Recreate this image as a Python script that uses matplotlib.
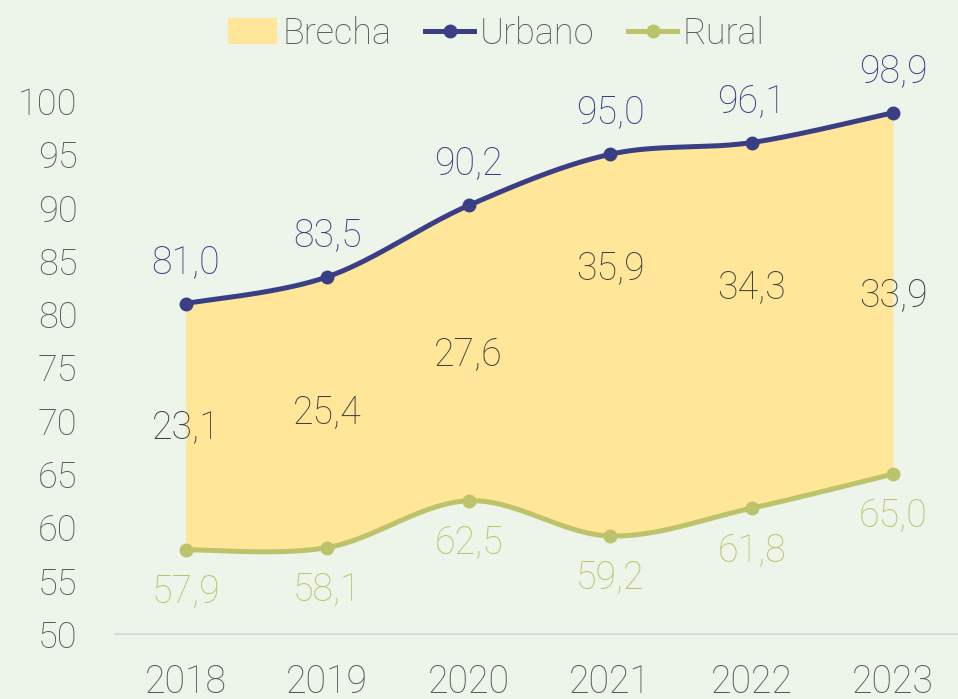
import numpy as np
import matplotlib
matplotlib.use("Agg")
import matplotlib.pyplot as plt
from matplotlib.patches import Patch
from matplotlib.lines import Line2D

years = ["2018", "2019", "2020", "2021", "2022", "2023"]
urbano = [81.0, 83.5, 90.2, 95.0, 96.1, 98.9]
rural = [57.9, 58.1, 62.5, 59.2, 61.8, 65.0]
brecha = [23.1, 25.4, 27.6, 35.9, 34.3, 33.9]
# vertical placement of gap labels (data units)
brecha_label_y = [69.4, 70.8, 76.2, 84.3, 82.5, 81.8]

C_URB = "#3a3f85"
C_RUR = "#bcc36a"
C_FILL = "#ffe699"
C_TXT = "#595959"
BG = "#edf5ea"
W = 'light'

plt.rcParams['font.family'] = ['Roboto', 'DejaVu Sans']


def smooth(xs, ys, n=40):
    xs = np.asarray(xs, float); ys = np.asarray(ys, float)
    P = np.column_stack([xs, ys])
    out = []
    for i in range(len(P) - 1):
        p0 = P[i - 1] if i > 0 else P[i]
        p1 = P[i]; p2 = P[i + 1]
        p3 = P[i + 2] if i + 2 < len(P) else P[i + 1]
        c1 = p1 + (p2 - p0) / 6.0
        c2 = p2 - (p3 - p1) / 6.0
        t = np.linspace(0, 1, n)[:, None]
        seg = ((1 - t) ** 3) * p1 + 3 * ((1 - t) ** 2) * t * c1 + 3 * (1 - t) * t ** 2 * c2 + t ** 3 * p2
        if i > 0:
            seg = seg[1:]
        out.append(seg)
    out = np.vstack(out)
    return out[:, 0], out[:, 1]


fig = plt.figure(figsize=(9.58, 6.99), dpi=100, facecolor=BG)
ax = fig.add_axes([0.120, 0.093, 0.883, 0.7625])
ax.set_facecolor(BG)

x = np.arange(len(years))
ux, uy = smooth(x, urbano)
rx, ry = smooth(x, rural)

ax.fill_between(ux, ry, uy, color=C_FILL, lw=0, zorder=1)
ax.plot(ux, uy, color=C_URB, lw=3.6, zorder=3, solid_capstyle='round')
ax.plot(rx, ry, color=C_RUR, lw=3.6, zorder=3, solid_capstyle='round')
ax.plot(x, urbano, 'o', color=C_URB, ms=9, zorder=4)
ax.plot(x, rural, 'o', color=C_RUR, ms=9, zorder=4)

fmt = lambda v: f"{v:.1f}".replace('.', ',')
for i in range(len(years)):
    ax.annotate(fmt(urbano[i]), (x[i], urbano[i]), xytext=(0, 30), textcoords='offset points',
                ha='center', va='center', fontsize=27, color=C_URB, fontweight=W, annotation_clip=False)
    ax.annotate(fmt(rural[i]), (x[i], rural[i]), xytext=(0, -30), textcoords='offset points',
                ha='center', va='center', fontsize=27, color=C_RUR, fontweight=W, annotation_clip=False)
    ax.text(x[i], brecha_label_y[i], fmt(brecha[i]), ha='center', va='center', fontsize=27,
            color="#404040", fontweight=W, zorder=5)

ax.set_xlim(-0.5, 5.48)
ax.set_ylim(50, 100)
ax.set_yticks(np.arange(50, 101, 5))
ax.set_xticks(x)
ax.set_xticklabels(years)
for s in ['top', 'right', 'left']:
    ax.spines[s].set_visible(False)
ax.spines['bottom'].set_color('#d9d9d9')
ax.spines['bottom'].set_linewidth(1.5)
ax.tick_params(axis='y', length=0, pad=27, labelsize=26, labelcolor=C_TXT)
ax.tick_params(axis='x', length=0, pad=21, labelsize=27, labelcolor=C_TXT)
for lab in ax.get_xticklabels() + ax.get_yticklabels():
    lab.set_fontweight(W)

handles = [Patch(facecolor=C_FILL, edgecolor='none', label='Brecha'),
           Line2D([0], [0], color=C_URB, lw=3.6, marker='o', ms=9, label='Urbano'),
           Line2D([0], [0], color=C_RUR, lw=3.6, marker='o', ms=9, label='Rural')]
leg = fig.legend(handles=handles, loc='center', bbox_to_anchor=(0.518, 0.952), ncol=3, frameon=False,
                 handlelength=1.35, handleheight=0.7, handletextpad=0.15, columnspacing=0.95,
                 labelcolor=C_TXT, prop={'weight': W, 'size': 26})

fig.savefig("out.png", dpi=100, facecolor=BG)
